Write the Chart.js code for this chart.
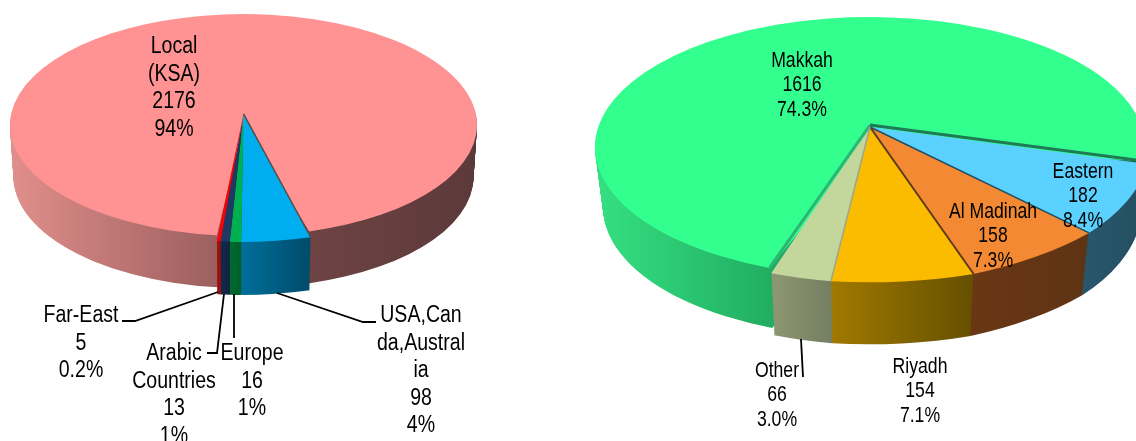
<!DOCTYPE html>
<html>
<head>
<meta charset="utf-8">
<style>
  html, body { margin: 0; padding: 0; background: #fff; overflow: hidden; }
  canvas { position: absolute; top: 0; }
  #origin { left: 0; }
  #region { left: 568px; }
</style>
<script src="https://cdn.jsdelivr.net/npm/chart.js@4"></script>
</head>
<body>
<canvas id="origin" width="568" height="441"></canvas>
<canvas id="region" width="568" height="441"></canvas>
<script>
const originNames = ['Local (KSA)', 'USA,Canada,Australia', 'Europe', 'Arabic Countries', 'Far-East'];
const originValues = [2176, 98, 16, 13, 5];
const originPercents = ['94%', '4%', '1%', '1%', '0.2%'];
const originWrapped = [['Local', '(KSA)'], ['USA,Can', 'da,Austral', 'ia'], ['Europe'], ['Arabic', 'Countries'], ['Far-East']];

const regionNames = ['Makkah', 'Eastern', 'Al Madinah', 'Riyadh', 'Other'];
const regionValues = [1616, 182, 158, 154, 66];
const regionPercents = ['74.3%', '8.4%', '7.3%', '7.1%', '3.0%'];

// maps a library angle onto the tilted pie, the disc is shifted so the apex sits off the ellipse centre
function project(theta, v, depth) {
  const u = Math.cos(theta), w = Math.sin(theta);
  const k = 1 + v.t * w;
  const up = u * Math.sqrt(1 - v.t * v.t) / k + (v.shift || 0) / v.rx;
  const wp = (w + v.t) / k;
  return {
    x: v.cx + (v.rx - depth * v.shrink) * up,
    y: v.cy + depth * v.dy + v.ry * wp,
    up, wp
  };
}

function apexOf(v, depth) {
  return { x: v.cx, y: v.cy + depth * v.dy + v.ry * v.t };
}

// gradient that runs along screen x whatever the current slice matrix is
function screenGradient(ctx, m, stops) {
  const n = m.a * m.a + m.c * m.c;
  const x0 = stops[0][0], x1 = stops[stops.length - 1][0];
  const p0 = { x: m.a * (x0 - m.e) / n, y: m.c * (x0 - m.e) / n };
  const w = x1 - x0;
  const g = ctx.createLinearGradient(p0.x, p0.y, p0.x + m.a * w / n, p0.y + m.c * w / n);
  stops.forEach(s => g.addColorStop((s[0] - x0) / w, s[1]));
  return g;
}

function drawSlice(ctx, arc, v, depth, fill) {
  const start = arc.startAngle, end = arc.endAngle, circ = arc.circumference;
  const R = arc.outerRadius;
  let m, a0 = start, a1 = end;
  if (circ > Math.PI) {
    // the big slice keeps the plain ellipse frame, the small ones paint over its centre
    const e0 = project(start, v, depth), e1 = project(end, v, depth);
    a0 = Math.atan2(e0.wp, e0.up);
    a1 = Math.atan2(e1.wp, e1.up);
    if (a1 < a0) a1 += Math.PI * 2;
    const sx = (v.rx - depth * v.shrink) / R, sy = v.ry / R;
    m = { a: sx, b: 0, c: 0, d: sy, e: v.cx - sx * arc.x, f: v.cy + depth * v.dy - sy * arc.y };
  } else {
    const A = apexOf(v, depth), B = project(start, v, depth), C = project(end, v, depth);
    const px = R * Math.cos(start), py = R * Math.sin(start);
    const qx = R * Math.cos(end), qy = R * Math.sin(end);
    const det = px * qy - py * qx;
    const a = ((B.x - A.x) * qy - (C.x - A.x) * py) / det;
    const c = ((C.x - A.x) * px - (B.x - A.x) * qx) / det;
    const b = ((B.y - A.y) * qy - (C.y - A.y) * py) / det;
    const d = ((C.y - A.y) * px - (B.y - A.y) * qx) / det;
    m = { a, b, c, d, e: A.x - a * arc.x - c * arc.y, f: A.y - b * arc.x - d * arc.y };
  }
  ctx.save();
  ctx.transform(m.a, m.b, m.c, m.d, m.e, m.f);
  const saved = arc.options;
  const paint = Array.isArray(fill) ? screenGradient(ctx, m, fill) : fill;
  arc.options = Object.create(saved, { backgroundColor: { value: paint }, borderWidth: { value: 0 } });
  arc.startAngle = a0;
  arc.endAngle = a1;
  arc.circumference = a1 - a0;
  arc.draw(ctx);
  arc.options = saved;
  arc.startAngle = start;
  arc.endAngle = end;
  arc.circumference = circ;
  ctx.restore();
}

function pie3d(cfg) {
  return {
    id: 'pie3d',
    beforeDatasetsDraw(chart) {
      const ctx = chart.ctx;
      const arcs = chart.getDatasetMeta(0).data;
      const viewOf = arc => arc.circumference > Math.PI ? cfg.big : cfg.front;
      const steps = Math.ceil(cfg.front.dy);
      for (let i = steps; i >= 1; i--) {
        arcs.forEach((arc, j) => drawSlice(ctx, arc, viewOf(arc), i / steps, cfg.walls[j]));
      }
      arcs.forEach(arc => drawSlice(ctx, arc, viewOf(arc), 0, arc.options.backgroundColor));
      cfg.edges.forEach(e => {
        const arc = arcs[e.slice];
        const v = viewOf(arc);
        const A = apexOf(v, 0);
        const P = project(e.atEnd ? arc.endAngle : arc.startAngle, v, 0);
        ctx.beginPath();
        ctx.moveTo(A.x, A.y);
        ctx.lineTo(P.x, P.y);
        ctx.strokeStyle = e.color;
        ctx.lineWidth = e.width;
        ctx.stroke();
      });
      return false;
    },
    afterDraw(chart) {
      const ctx = chart.ctx;
      ctx.save();
      ctx.strokeStyle = '#000';
      ctx.lineWidth = 1.8;
      cfg.leaders.forEach(pts => {
        ctx.beginPath();
        pts.forEach((p, i) => i ? ctx.lineTo(p[0], p[1]) : ctx.moveTo(p[0], p[1]));
        ctx.stroke();
      });
      ctx.fillStyle = '#000';
      ctx.textAlign = 'center';
      ctx.textBaseline = 'middle';
      cfg.labels.forEach(l => {
        ctx.font = l.size + 'px "Liberation Sans", Arial, sans-serif';
        l.lines.forEach((line, i) => {
          ctx.save();
          ctx.translate(l.x, l.y + i * l.gap);
          ctx.scale(l.squeeze, 1);
          ctx.fillText(line, 0, 0);
          ctx.restore();
        });
      });
      ctx.restore();
    }
  };
}

function makePie(id, names, values, colors, rotation, cfg) {
  return new Chart(document.getElementById(id), {
    type: 'pie',
    data: {
      labels: names,
      datasets: [{ data: values, backgroundColor: colors, borderWidth: 0, clip: false }]
    },
    options: {
      responsive: false,
      animation: false,
      rotation,
      radius: 200,
      events: [],
      plugins: { legend: { display: false }, tooltip: { enabled: false } }
    },
    plugins: [pie3d(cfg)]
  });
}

const originSize = { size: 23, squeeze: 0.85, gap: 27.5 };
makePie('origin', originNames, originValues, ['#FF9393', '#00AEEF', '#00B050', '#1F3864', '#FF0000'], 185.9, {
  front: { cx: 243.5, cy: 128, rx: 233.5, ry: 114, t: -0.123, dy: 53, shrink: 3.5, shift: 0.5 },
  big: { cx: 243.5, cy: 125, rx: 233.5, ry: 111, t: -0.108, dy: 52, shrink: 3.5 },
  walls: [
    [[10, '#E18F8C'], [217, '#9C5F5F'], [310, '#6E4343'], [477, '#5C3939']],
    [[240, '#00709C'], [310, '#004C6A']],
    [[228, '#006B30'], [242, '#005F2A']],
    [[222, '#11294A'], [230, '#0F2340']],
    [[216, '#A80F0F'], [222, '#960D0D']]
  ],
  edges: [{ slice: 1, color: '#5B4B4B', width: 1.5 }],
  leaders: [
    [[122, 321], [135, 321], [218, 292]],
    [[376, 322], [363, 322], [277, 293]],
    [[207, 353], [217, 353], [224, 294]],
    [[234, 338], [234, 294]]
  ],
  labels: [
    { x: 174, y: 47, lines: [...originWrapped[0], String(originValues[0]), originPercents[0]], ...originSize },
    { x: 421, y: 316, lines: [...originWrapped[1], String(originValues[1]), originPercents[1]], ...originSize },
    { x: 252, y: 354, lines: [...originWrapped[2], String(originValues[2]), originPercents[2]], ...originSize },
    { x: 174, y: 354, lines: [...originWrapped[3], String(originValues[3]), originPercents[3]], ...originSize },
    { x: 81, y: 316, lines: [...originWrapped[4], String(originValues[4]), originPercents[4]], ...originSize }
  ]
});

const regionSize = { size: 21.5, squeeze: 0.82, gap: 24.5 };
makePie('region', regionNames, regionValues, ['#33FF8F', '#5BD1FF', '#F38A33', '#FBBC00', '#C3D69B'], 198.5, {
  front: { cx: 302, cy: 150, rx: 275, ry: 133, t: -0.173, dy: 62, shrink: 8, shift: 4 },
  big: { cx: 302, cy: 147, rx: 275, ry: 130, t: -0.169, dy: 60, shrink: 8, shift: 2 },
  walls: [
    [[27, '#35E082'], [201, '#21AE62'], [568, '#1A6A4A']],
    [[480, '#2A5A70'], [568, '#245063']],
    [[404, '#6A3614'], [520, '#5E3414']],
    [[264, '#A07900'], [405, '#655000']],
    [[202, '#8F9872'], [264, '#747E62']]
  ],
  edges: [
    { slice: 0, color: '#2BB673', width: 3 },
    { slice: 0, atEnd: true, color: '#1F7A55', width: 3 },
    { slice: 2, color: '#1F4F66', width: 1.5 },
    { slice: 3, color: '#5F3A1A', width: 2 },
    { slice: 4, color: '#9AA68A', width: 1.5 }
  ],
  leaders: [[[233, 339], [235, 377]]],
  labels: [
    { x: 234, y: 61, lines: [regionNames[0], String(regionValues[0]), regionPercents[0]], ...regionSize },
    { x: 515, y: 172, lines: [regionNames[1], String(regionValues[1]), regionPercents[1]], ...regionSize },
    { x: 425, y: 212, lines: [regionNames[2], String(regionValues[2]), regionPercents[2]], ...regionSize },
    { x: 352, y: 367, lines: [regionNames[3], String(regionValues[3]), regionPercents[3]], ...regionSize },
    { x: 209, y: 371, lines: [regionNames[4], String(regionValues[4]), regionPercents[4]], ...regionSize }
  ]
});
</script>
</body>
</html>
